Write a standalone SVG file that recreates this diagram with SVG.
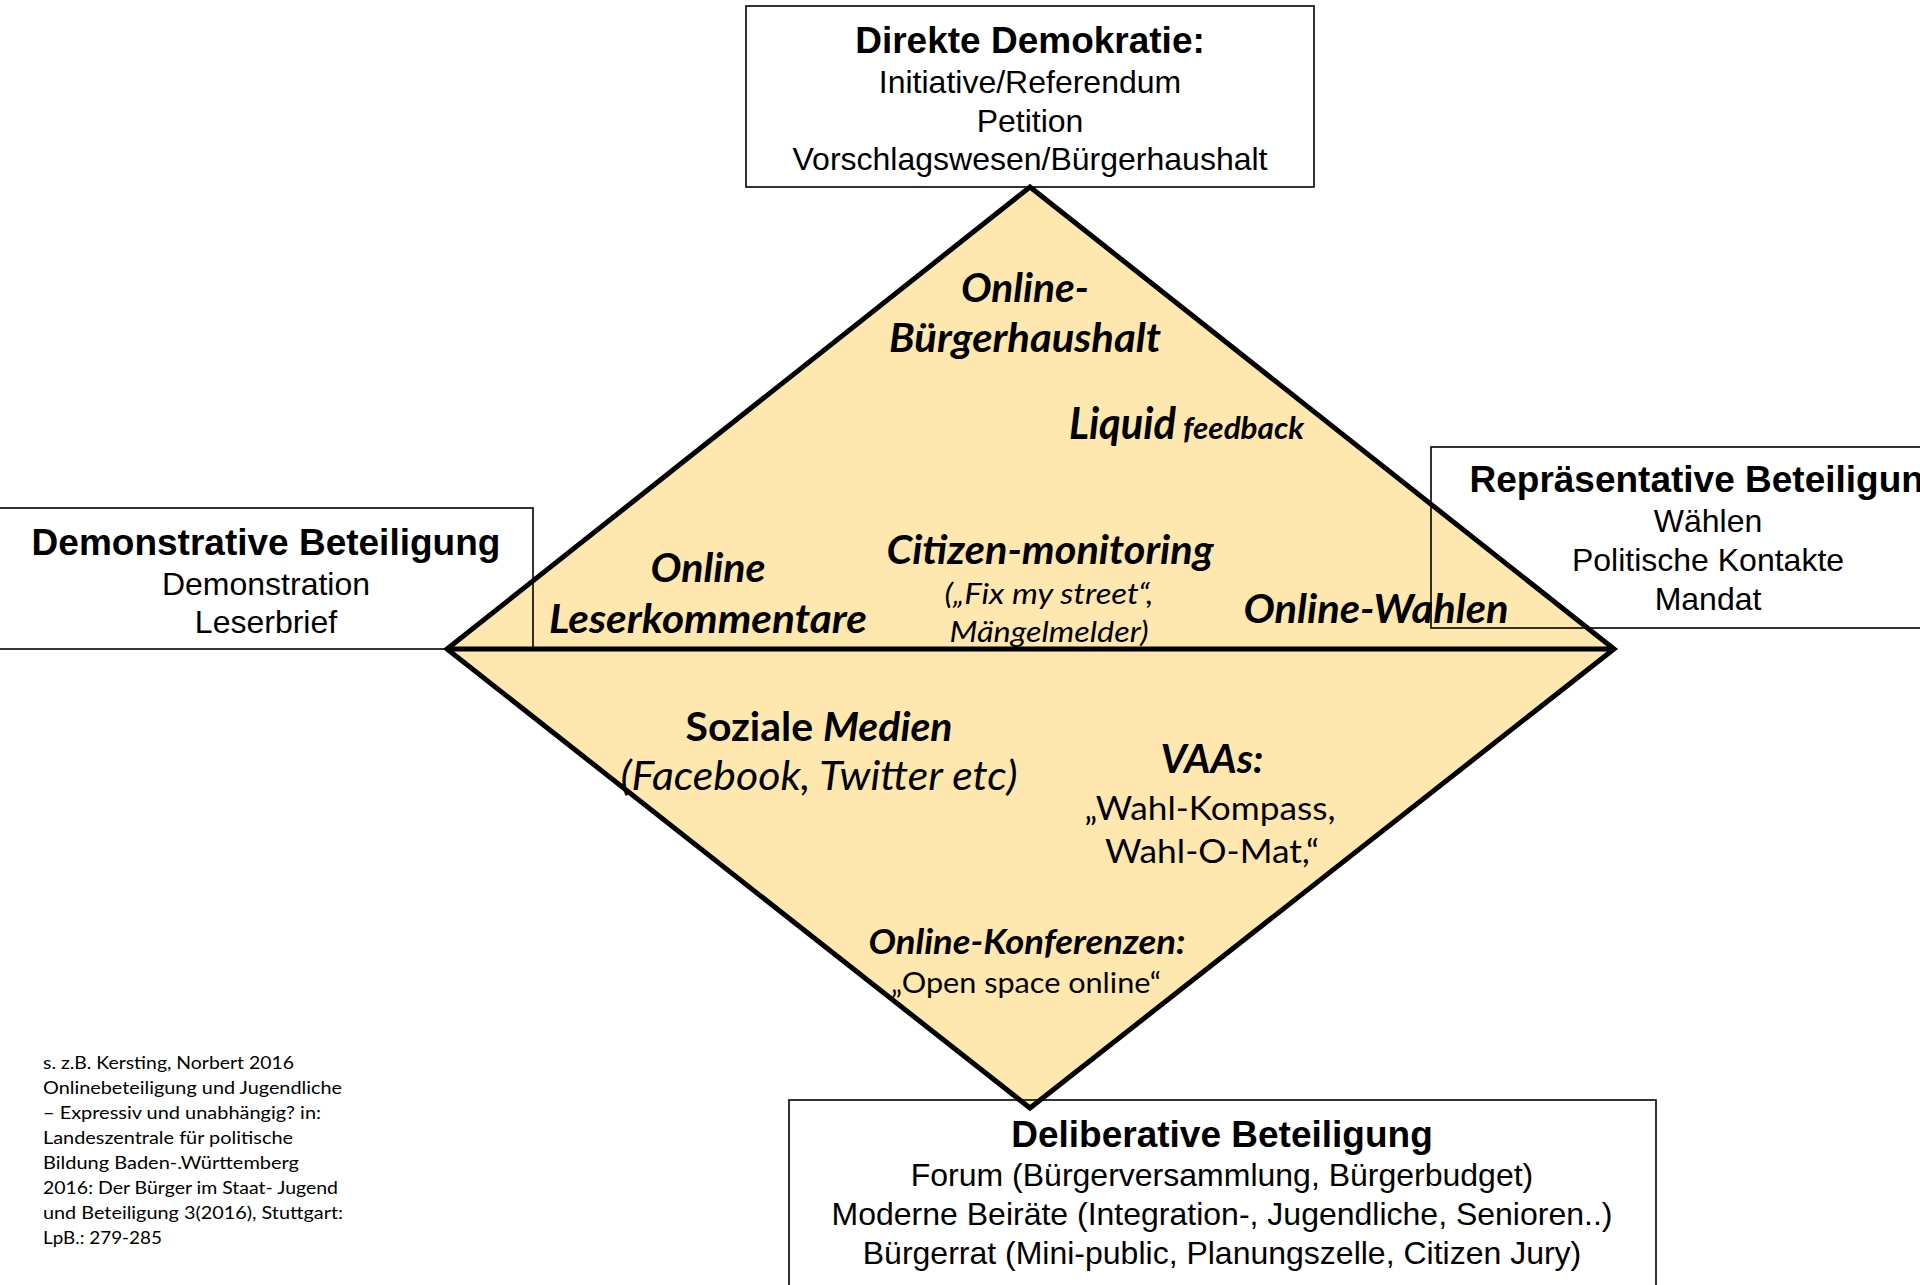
<svg xmlns="http://www.w3.org/2000/svg" width="1920" height="1285" viewBox="0 0 1920 1285">
<style>
.box{fill:none;stroke:#000;stroke-width:1.6}
.ar{font-family:"Liberation Sans",Arial,sans-serif;fill:#000;text-anchor:middle}
.t{font-size:37px;font-weight:bold}
.r{font-size:32px}
.ca{font-family:Lato,"Open Sans",sans-serif;fill:#000;text-anchor:middle}
.bi{font-weight:bold;font-style:italic;font-size:40px}
.it{font-style:italic;font-size:29px}
.rg{font-size:32px}
.cite{font-family:Lato,"Open Sans",sans-serif;font-size:18px;fill:#000}
</style>
<rect width="1920" height="1285" fill="#fff"/>
<g id="diamond">
<polygon points="1030,187 1614,649 1030,1108 447,649" fill="#FEE8AF"/>
</g>
<g id="direkte-demokratie">
<rect class="box" x="746" y="6" width="568" height="181"/>
<text class="ar t" x="1030" y="53">Direkte Demokratie:</text>
<text class="ar r" x="1030" y="93">Initiative/Referendum</text>
<text class="ar r" x="1030" y="132">Petition</text>
<text class="ar r" x="1030" y="170">Vorschlagswesen/Bürgerhaushalt</text>
</g>
<g id="demonstrative-beteiligung">
<rect class="box" x="-2" y="508" width="535" height="141"/>
<text class="ar t" x="266" y="555">Demonstrative Beteiligung</text>
<text class="ar r" x="266" y="595">Demonstration</text>
<text class="ar r" x="266" y="633">Leserbrief</text>
</g>
<g id="repraesentative-beteiligung">
<rect class="box" x="1431" y="447" width="560" height="181"/>
<text class="ar t" x="1708" y="492">Repräsentative Beteiligung</text>
<text class="ar r" x="1708" y="532">Wählen</text>
<text class="ar r" x="1708" y="571">Politische Kontakte</text>
<text class="ar r" x="1708" y="610">Mandat</text>
</g>
<g id="deliberative-beteiligung">
<rect class="box" x="789" y="1100" width="867" height="200"/>
<text class="ar t" x="1222" y="1147">Deliberative Beteiligung</text>
<text class="ar r" x="1222" y="1186">Forum (Bürgerversammlung, Bürgerbudget)</text>
<text class="ar r" x="1222" y="1225">Moderne Beiräte (Integration-, Jugendliche, Senioren..)</text>
<text class="ar r" x="1222" y="1264">Bürgerrat (Mini-public, Planungszelle, Citizen Jury)</text>
</g>
<g id="connectors">
<polygon points="1030,187 1614,649 1030,1108 447,649" fill="none" stroke="#000" stroke-width="5" stroke-linejoin="miter"/>
<line x1="447" y1="649" x2="1614" y2="649" stroke="#000" stroke-width="5"/>
</g>
<g id="online-buergerhaushalt">
<text class="ca bi" x="1025" y="302" textLength="128" lengthAdjust="spacingAndGlyphs">Online-</text>
<text class="ca bi" x="1025" y="352" textLength="272" lengthAdjust="spacingAndGlyphs">Bürgerhaushalt</text>
</g>
<g id="liquid-feedback">
<text class="ca" x="1069" y="439" style="text-anchor:start"><tspan font-weight="bold" font-style="italic" font-size="44" textLength="107" lengthAdjust="spacingAndGlyphs">Liquid</tspan><tspan x="1183" font-weight="bold" font-style="italic" font-size="30" textLength="121" lengthAdjust="spacingAndGlyphs">feedback</tspan></text>
</g>
<g id="citizen-monitoring">
<text class="ca bi" x="1050" y="564" textLength="327" lengthAdjust="spacingAndGlyphs">Citizen-monitoring</text>
<text class="ca it" x="1049" y="604" textLength="209" lengthAdjust="spacingAndGlyphs">(„Fix my street“,</text>
<text class="ca it" x="1049" y="642" textLength="199" lengthAdjust="spacingAndGlyphs">Mängelmelder)</text>
</g>
<g id="online-leserkommentare">
<text class="ca bi" x="708" y="582" textLength="115" lengthAdjust="spacingAndGlyphs">Online</text>
<text class="ca bi" x="708" y="633" textLength="318" lengthAdjust="spacingAndGlyphs">Leserkommentare</text>
</g>
<g id="online-wahlen">
<text class="ca bi" x="1376" y="623" textLength="265" lengthAdjust="spacingAndGlyphs">Online-Wahlen</text>
</g>
<g id="soziale-medien">
<text class="ca" x="819" y="741" font-size="40" font-weight="bold" textLength="267" lengthAdjust="spacingAndGlyphs">Soziale <tspan font-style="italic">Medien</tspan></text>
<text class="ca" x="819" y="790" font-size="40" font-style="italic" textLength="397" lengthAdjust="spacingAndGlyphs">(Facebook, Twitter etc)</text>
</g>
<g id="vaas">
<text class="ca bi" x="1212" y="773" textLength="103" lengthAdjust="spacingAndGlyphs">VAAs:</text>
<text class="ca rg" x="1210" y="820" textLength="251" lengthAdjust="spacingAndGlyphs">„Wahl-Kompass,</text>
<text class="ca rg" x="1212" y="863" textLength="214" lengthAdjust="spacingAndGlyphs">Wahl-O-Mat,“</text>
</g>
<g id="online-konferenzen">
<text class="ca" x="1027" y="954" font-size="34" font-weight="bold" font-style="italic" textLength="317" lengthAdjust="spacingAndGlyphs">Online-Konferenzen:</text>
<text class="ca" x="1026" y="993" font-size="28" textLength="270" lengthAdjust="spacingAndGlyphs">„Open space online“</text>
</g>
<g id="quelle">
<text class="cite" x="43" y="1069" textLength="251" lengthAdjust="spacingAndGlyphs">s. z.B. Kersting, Norbert 2016</text>
<text class="cite" x="43" y="1094" textLength="299" lengthAdjust="spacingAndGlyphs">Onlinebeteiligung und Jugendliche</text>
<text class="cite" x="43" y="1119" textLength="278" lengthAdjust="spacingAndGlyphs">– Expressiv und unabhängig? in:</text>
<text class="cite" x="43" y="1144" textLength="250" lengthAdjust="spacingAndGlyphs">Landeszentrale für politische</text>
<text class="cite" x="43" y="1169" textLength="256" lengthAdjust="spacingAndGlyphs">Bildung Baden-.Württemberg</text>
<text class="cite" x="43" y="1194" textLength="295" lengthAdjust="spacingAndGlyphs">2016: Der Bürger im Staat- Jugend</text>
<text class="cite" x="43" y="1219" textLength="300" lengthAdjust="spacingAndGlyphs">und Beteiligung 3(2016), Stuttgart:</text>
<text class="cite" x="43" y="1244" textLength="119" lengthAdjust="spacingAndGlyphs">LpB.: 279-285</text>
</g>
</svg>
